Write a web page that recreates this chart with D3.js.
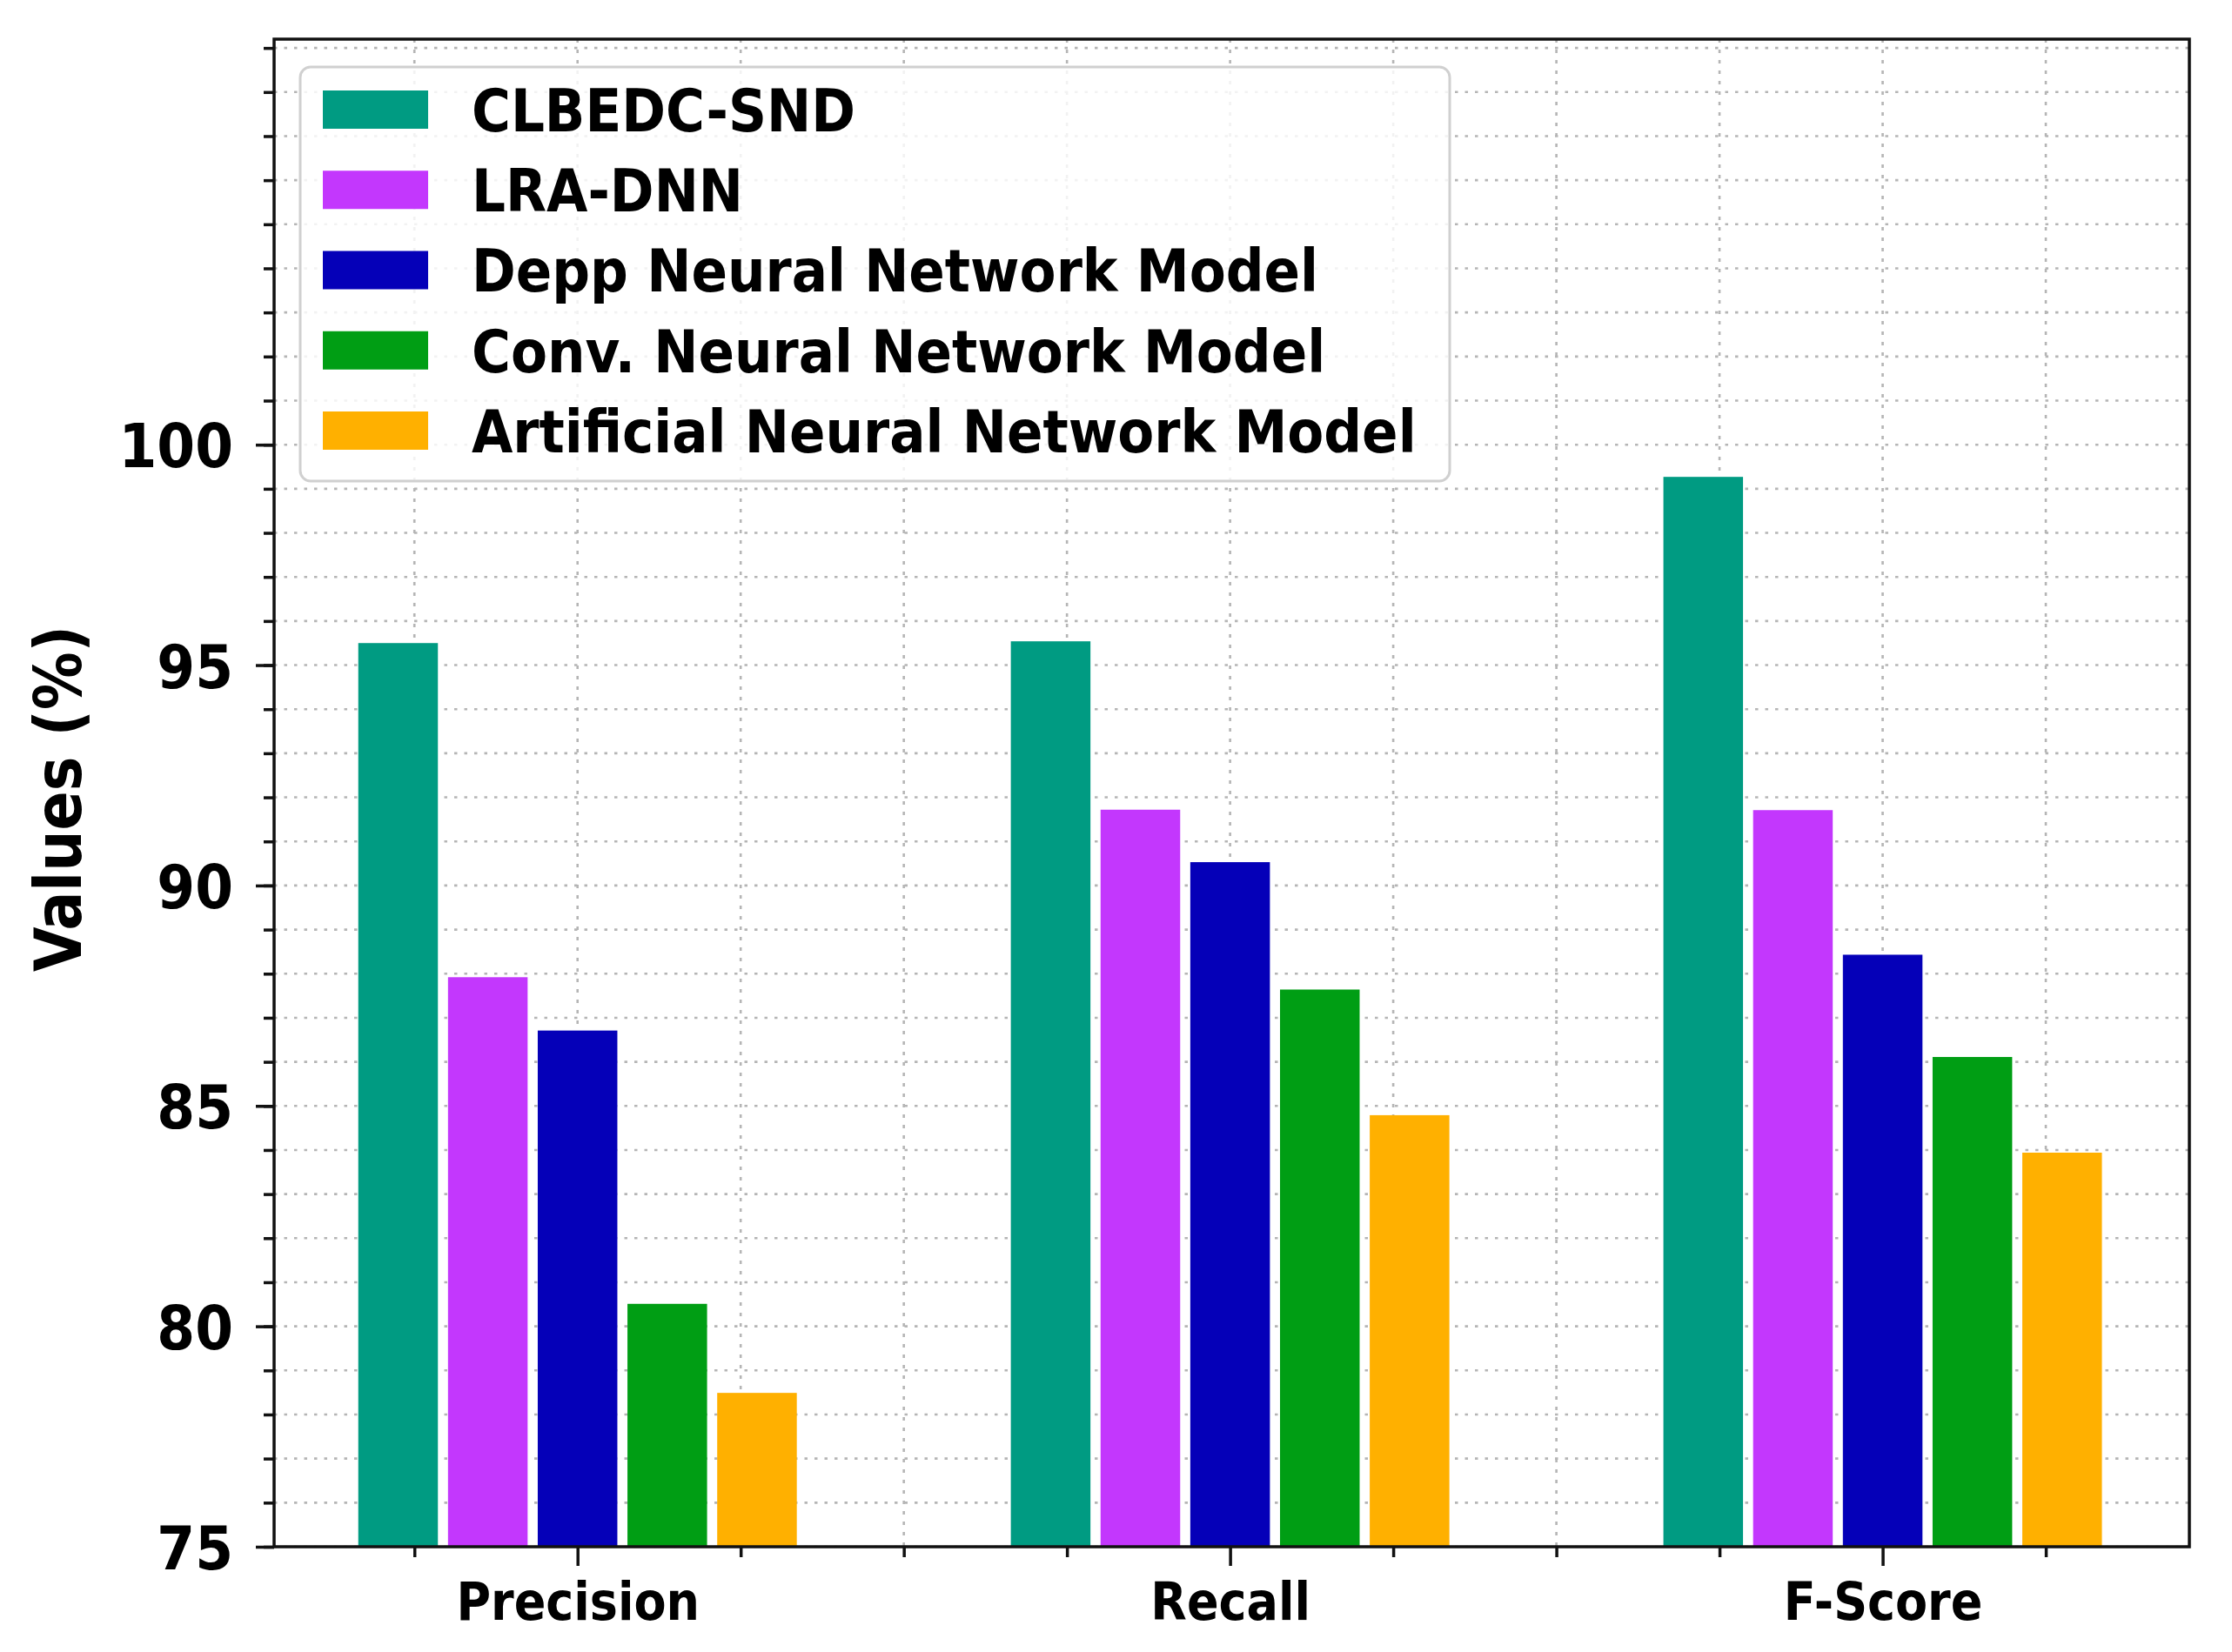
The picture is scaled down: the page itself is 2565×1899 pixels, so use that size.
<!DOCTYPE html>
<html>
<head>
<meta charset="utf-8">
<script src="https://cdn.jsdelivr.net/npm/d3@7"></script>
<style>
  html, body { margin: 0; padding: 0; background: #fff; }
  svg text { font-family: "DejaVu Sans Condensed", "DejaVu Sans", sans-serif; font-stretch: condensed; font-weight: bold; fill: #000; }
</style>
</head>
<body>
<svg id="chart" width="2565" height="1899"></svg>
<script>
// ---- data ----
const categories = ["Precision", "Recall", "F-Score"];
const seriesNames = ["CLBEDC-SND", "LRA-DNN", "Depp Neural Network Model", "Conv. Neural Network Model", "Artificial Neural Network Model"];
const clbedcSnd = [95.50, 95.54, 99.27];
const lraDnn    = [87.92, 91.72, 91.71];
const deppNN    = [86.71, 90.53, 88.43];
const convNN    = [80.51, 87.64, 86.11];
const annModel  = [78.49, 84.79, 83.94];
const seriesColors = ["#009b82", "#c337fd", "#0500b8", "#009e14", "#ffb000"];
const yMajorTicks = [75, 80, 85, 90, 95, 100];
const yMinorTicks = d3.range(75, 110, 1);
const xMinorTicks = [-0.25, 0.25, 0.5, 0.75, 1.25, 1.5, 1.75, 2.25];
const yLabel = "Values (%)";

const seriesValues = [clbedcSnd, lraDnn, deppNN, convNN, annModel];

// ---- layout ----
const L = 315, R = 2516, T = 45, B = 1778;
const svg = d3.select("#chart");
const x = d3.scaleLinear().domain([-0.465, 2.47]).range([L, R]);
const y = d3.scaleLinear().domain([75, 109.2]).range([B, T]);
const pitch = 0.1375, barW = 0.122;

// ---- grid ----
const grid = svg.append("g");
grid.selectAll("line.h").data(yMinorTicks).join("line")
  .attr("x1", L).attr("x2", R)
  .attr("y1", d => y(d)).attr("y2", d => y(d))
  .attr("stroke", "#b5b5b5").attr("stroke-width", 2.6).attr("stroke-dasharray", "3.5,8");
grid.selectAll("line.v").data(xMinorTicks.concat([0, 1, 2])).join("line")
  .attr("y1", T).attr("y2", B)
  .attr("x1", d => x(d)).attr("x2", d => x(d))
  .attr("stroke", "#b5b5b5").attr("stroke-width", 2.6).attr("stroke-dasharray", "4,8");

// ---- bars ----
const bars = svg.append("g");
seriesValues.forEach((vals, s) => {
  bars.append("g").attr("fill", seriesColors[s])
    .selectAll("rect").data(vals).join("rect")
    .attr("x", (d, i) => x(i + (s - 2) * pitch - barW / 2))
    .attr("width", x(barW) - x(0))
    .attr("y", d => y(d))
    .attr("height", d => y(75) - y(d));
});

// ---- axes ----
const yMin = svg.append("g").attr("transform", `translate(${L},0)`)
  .call(d3.axisLeft(y).tickValues(yMinorTicks).tickSize(12).tickFormat(""));
const yMaj = svg.append("g").attr("transform", `translate(${L},0)`)
  .call(d3.axisLeft(y).tickValues(yMajorTicks).tickSize(21).tickPadding(24));
const xMin = svg.append("g").attr("transform", `translate(0,${B})`)
  .call(d3.axisBottom(x).tickValues(xMinorTicks).tickSize(12).tickFormat(""));
const xMaj = svg.append("g").attr("transform", `translate(0,${B})`)
  .call(d3.axisBottom(x).tickValues([0, 1, 2]).tickSize(22).tickFormat(i => categories[i]));
[yMin, yMaj, xMin, xMaj].forEach(g => {
  g.select(".domain").remove();
  g.selectAll(".tick line").attr("stroke", "#111").attr("stroke-width", 3.5);
});
yMaj.selectAll(".tick text").attr("font-size", 70).attr("dy", "0.3645em").attr("fill", "#000")
  .attr("x", -(21 + 26));
xMaj.selectAll(".tick text").attr("font-size", 60).attr("dy", 0).attr("y", 84).attr("fill", "#000");

// frame
svg.append("rect").attr("x", L).attr("y", T).attr("width", R - L).attr("height", B - T)
  .attr("fill", "none").attr("stroke", "#111").attr("stroke-width", 3.5);

// y label
svg.append("text").attr("transform", `translate(93,918) rotate(-90)`)
  .attr("text-anchor", "middle").attr("font-size", 74).text(yLabel);

// ---- legend ----
const leg = svg.append("g");
leg.append("rect").attr("x", 345).attr("y", 77).attr("width", 1321).attr("height", 476)
  .attr("rx", 12).attr("fill", "#fff").attr("fill-opacity", 0.82)
  .attr("stroke", "#d0d0d0").attr("stroke-width", 3);
const legRow = d3.scaleLinear().domain([0, 4]).range([126, 495]);
const items = leg.selectAll("g.item").data(seriesNames).join("g");
items.append("rect").attr("x", 371).attr("width", 121).attr("height", 44)
  .attr("y", (d, i) => legRow(i) - 22).attr("fill", (d, i) => seriesColors[i]);
items.append("text").attr("x", 542).attr("y", (d, i) => legRow(i) + 0.729 * 68 / 2)
  .attr("font-size", 68).text(d => d);
</script>
</body>
</html>
